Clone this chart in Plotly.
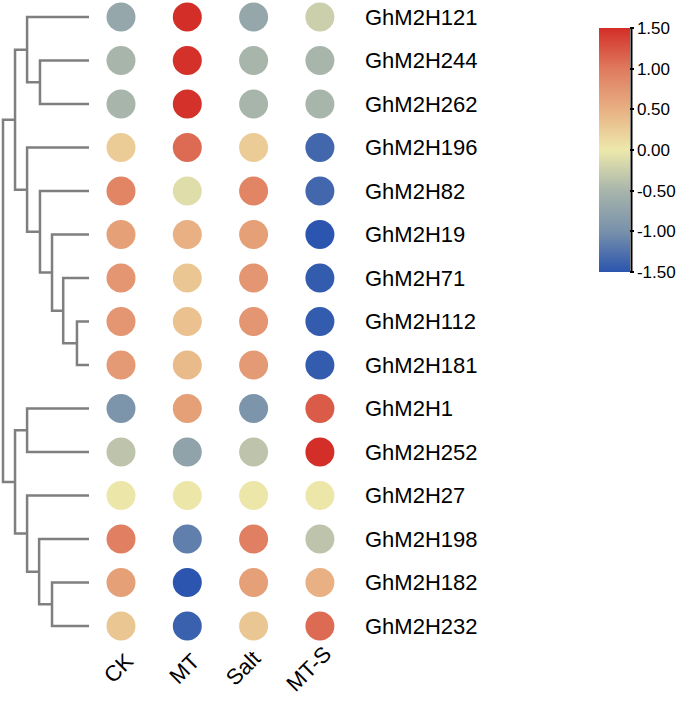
import plotly.graph_objects as go

# rows top -> bottom, columns left -> right
genes = ['GhM2H121', 'GhM2H244', 'GhM2H262', 'GhM2H196', 'GhM2H82',
         'GhM2H19', 'GhM2H71', 'GhM2H112', 'GhM2H181', 'GhM2H1',
         'GhM2H252', 'GhM2H27', 'GhM2H198', 'GhM2H182', 'GhM2H232']
conditions = ['CK', 'MT', 'Salt', 'MT-S']

ck   = [-0.70, -0.50, -0.50, 0.25, 0.90, 0.65, 0.75, 0.75, 0.70, -0.95, -0.35, 0.02, 0.95, 0.65, 0.30]
mt   = [1.50, 1.48, 1.48, 1.10, -0.10, 0.50, 0.30, 0.35, 0.40, 0.65, -0.75, 0.02, -1.15, -1.50, -1.40]
salt = [-0.70, -0.50, -0.50, 0.25, 0.90, 0.65, 0.75, 0.75, 0.70, -0.95, -0.35, 0.02, 0.95, 0.65, 0.30]
mts  = [-0.25, -0.50, -0.50, -1.35, -1.35, -1.50, -1.45, -1.45, -1.45, 1.20, 1.50, 0.02, -0.35, 0.50, 1.10]

# row clustering: (left, right, height); new cluster ids start at len(genes)
merges = [
    (7, 8, 0.14), (6, 15, 0.30), (5, 16, 0.43), (4, 17, 0.57), (3, 18, 0.72),
    (1, 2, 0.57), (0, 20, 0.72), (21, 19, 0.86),
    (13, 14, 0.43), (12, 23, 0.58), (11, 24, 0.72), (9, 10, 0.72), (26, 25, 0.86),
    (22, 27, 1.00),
]

cb_ticks = [-1.5, -1.0, -0.5, 0.0, 0.5, 1.0, 1.5]
colorscale = [
    [0.0, '#2b55ae'], [1 / 6, '#7891ab'], [2 / 6, '#a8b5ab'], [0.5, '#ede8ab'],
    [4 / 6, '#e8b083'], [5 / 6, '#df7a5e'], [1.0, '#d32e28'],
]

W, H, B = 685, 703, 58
PH = H - B
font = 'Liberation Sans, Arial, sans-serif'

# dendrogram segments
pos = {i: (0.0, float(i)) for i in range(len(genes))}
dx, dy = [], []
for k, (a, b, h) in enumerate(merges):
    ha, ya = pos[a]
    hb, yb = pos[b]
    dx += [ha, h, h, hb, None]
    dy += [ya, ya, yb, yb, None]
    pos[len(genes) + k] = (h, (ya + yb) / 2)

xs, ys, vs = [], [], []
for j, col in enumerate([ck, mt, salt, mts]):
    for i, v in enumerate(col):
        xs.append(j)
        ys.append(i)
        vs.append(v)

fig = go.Figure()
fig.add_trace(go.Scatter(x=dx, y=dy, mode='lines', xaxis='x2', yaxis='y',
                         line=dict(color='#7f7f7f', width=2.5), hoverinfo='skip'))
fig.add_trace(go.Scatter(
    x=xs, y=ys, mode='markers',
    marker=dict(size=29, color=vs, colorscale=colorscale, cmin=-1.5, cmax=1.5,
                line=dict(width=0),
                colorbar=dict(thickness=31, lenmode='pixels', len=244,
                              x=599 / W, xanchor='left', xpad=0,
                              y=1 - 28 / PH, yanchor='top', ypad=0,
                              outlinewidth=0, ticks='outside', ticklen=4,
                              tickwidth=1.5, tickcolor='black',
                              tickvals=cb_ticks, ticktext=['%.2f' % t for t in cb_ticks],
                              tickfont=dict(family=font, size=17, color='black'))),
))

for i, g in enumerate(genes):
    fig.add_annotation(x=3.65, y=i, text=g, showarrow=False, xanchor='left',
                       font=dict(family=font, size=22, color='black'))
for j, c in enumerate(conditions):
    # rotated labels end just right of their column
    shift = 13 - 0.3535 * (22 + 11.5 * len(c))
    fig.add_annotation(x=j, y=1 - 668 / PH, yref='paper', text=c, showarrow=False,
                       xanchor='center', yanchor='middle', xshift=shift, textangle=-45,
                       font=dict(family=font, size=22, color='black'))

# axis line of the colour bar
fig.add_shape(type='line', xref='paper', yref='paper',
              x0=631.5 / W, x1=631.5 / W, y0=1 - 28 / PH, y1=1 - 272 / PH,
              line=dict(color='black', width=2))

fig.update_layout(
    width=W, height=H, margin=dict(l=0, r=0, t=0, b=B),
    paper_bgcolor='white', plot_bgcolor='rgba(0,0,0,0)', showlegend=False,
    xaxis=dict(domain=[0, 1], range=[-121 / 66.3, (W - 121) / 66.3], visible=False),
    xaxis2=dict(domain=[0, 89 / W], range=[89 / 86, 0], visible=False, anchor='y'),
    yaxis=dict(range=[(PH - 17) / 43.5, -17 / 43.5], visible=False),
)

fig.write_html('out.html', config={'displayModeBar': False},
               post_script="document.body.style.margin='0';")
